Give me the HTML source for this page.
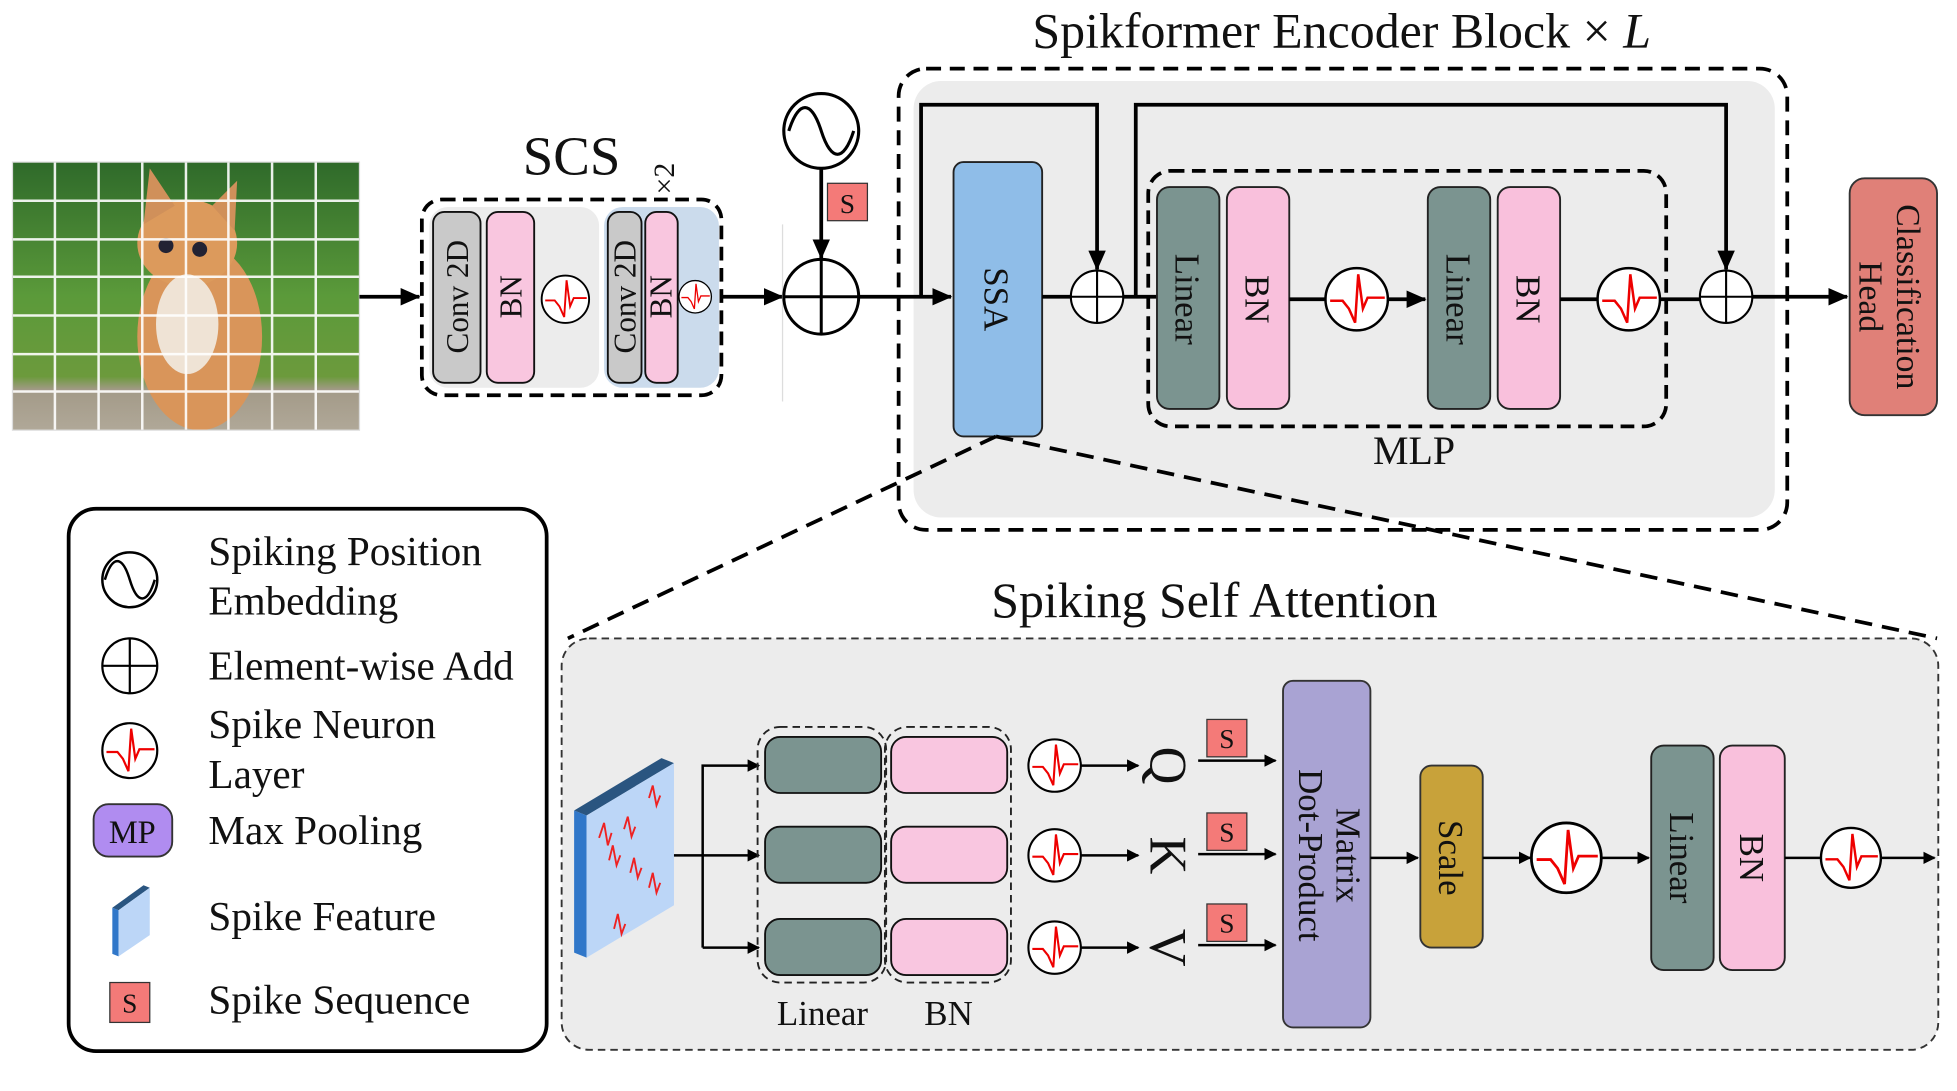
<!DOCTYPE html>
<html><head><meta charset="utf-8"><style>
html,body{margin:0;padding:0;background:#fff;}
svg{display:block;}
text{font-family:"Liberation Serif",serif;fill:#111;}
</style></head><body>
<svg width="1957" height="1091" viewBox="0 0 1568 875" preserveAspectRatio="none" xmlns="http://www.w3.org/2000/svg">
<defs>
<marker id="ar" markerWidth="10" markerHeight="10" refX="9" refY="5" orient="auto" markerUnits="userSpaceOnUse" viewBox="0 0 10 10">
<path d="M0,0 L10,5 L0,10 z" fill="#000"/></marker>
<marker id="ar2" markerWidth="16" markerHeight="14" refX="15" refY="7" orient="auto" markerUnits="userSpaceOnUse" viewBox="0 0 16 14">
<path d="M0,0 L16,7 L0,14 z" fill="#000"/></marker>
<g id="spk"><circle cx="0" cy="0" r="1" fill="#fff" stroke="#000" stroke-width="0.08"/>
<path d="M-0.85,0.05 L-0.45,0.05 L-0.25,0.3 L-0.05,0.75 L0.05,-0.8 L0.2,0.3 L0.35,-0.05 L0.9,-0.05" fill="none" stroke="#e00" stroke-width="0.08"/></g>
<g id="plus"><circle cx="0" cy="0" r="1" fill="#fff" stroke="#000" stroke-width="0.08"/><path d="M-1,0H1M0,-1V1" stroke="#000" stroke-width="0.08"/></g>
<linearGradient id="grass" x1="0" y1="0" x2="0" y2="1"><stop offset="0" stop-color="#2f6a2a"/><stop offset="0.5" stop-color="#5b9a3a"/><stop offset="0.8" stop-color="#6c9a3c"/><stop offset="0.85" stop-color="#a39a88"/><stop offset="1" stop-color="#b0a898"/></linearGradient>
</defs>

<rect x="10" y="130" width="278" height="215" fill="url(#grass)"/>
<ellipse cx="160" cy="270" rx="50" ry="75" fill="#d9955a"/>
<ellipse cx="150" cy="195" rx="40" ry="35" fill="#dc9a5c"/>
<path d="M115,180 L120,135 L140,165 Z M170,165 L190,145 L188,185 Z" fill="#d0905a"/>
<ellipse cx="150" cy="260" rx="25" ry="40" fill="#efe3d5"/>
<circle cx="133" cy="197" r="6" fill="#223"/><circle cx="160" cy="200" r="6" fill="#223"/>
<g stroke="#fff" stroke-width="2" opacity="0.9">
<path d="M44,130V345M79,130V345M114,130V345M149,130V345M183,130V345M218,130V345M253,130V345"/>
<path d="M10,161H288M10,192H288M10,222H288M10,253H288M10,284H288M10,314H288"/>
</g>
<rect x="10" y="130" width="278" height="215" fill="none" stroke="#ddd" stroke-width="1"/>

<line x1="288" y1="238" x2="336" y2="238" stroke="#000" stroke-width="3" marker-end="url(#ar2)"/>

<text x="458" y="140" font-size="44" text-anchor="middle">SCS</text>
<text x="0" y="0" font-size="24" transform="translate(540,156) rotate(-90)">×2</text>
<rect x="344" y="166" width="136" height="145" rx="15" fill="#ececec"/>
<rect x="484" y="166" width="92" height="145" rx="15" fill="#cbdbec"/>
<rect x="338" y="160" width="240" height="157" rx="16" fill="none" stroke="#000" stroke-width="3" stroke-dasharray="11,6"/>
<rect x="347" y="170" width="38" height="137" rx="9" fill="#c9c9c9" stroke="#111" stroke-width="1.5"/>
<rect x="390" y="170" width="38" height="137" rx="9" fill="#f9c6df" stroke="#111" stroke-width="1.5"/>
<text font-size="25" text-anchor="middle" transform="translate(375,238) rotate(-90)">Conv 2D</text>
<text font-size="25" text-anchor="middle" transform="translate(418,238) rotate(-90)">BN</text>
<use href="#spk" transform="translate(453,240) scale(19)"/>
<rect x="487" y="170" width="27" height="137" rx="9" fill="#c9c9c9" stroke="#111" stroke-width="1.5"/>
<rect x="517" y="170" width="26" height="137" rx="9" fill="#f9c6df" stroke="#111" stroke-width="1.5"/>
<text font-size="25" text-anchor="middle" transform="translate(509,238) rotate(-90)">Conv 2D</text>
<text font-size="25" text-anchor="middle" transform="translate(538,238) rotate(-90)">BN</text>
<use href="#spk" transform="translate(557,238) scale(13)"/>
<line x1="578" y1="238" x2="627" y2="238" stroke="#000" stroke-width="3" marker-end="url(#ar2)"/>
<line x1="627" y1="180" x2="627" y2="322" stroke="#ddd" stroke-width="1"/>

<circle cx="658" cy="105" r="30" fill="#fff" stroke="#000" stroke-width="2.5"/>
<path d="M632,105 C640,80 650,80 658,105 C666,130 676,130 684,105" fill="none" stroke="#000" stroke-width="2.5"/>
<rect x="663" y="147" width="32" height="30" fill="#f47a78" stroke="#333" stroke-width="1"/>
<text x="679" y="171" font-size="22" text-anchor="middle">S</text>
<line x1="658" y1="135" x2="658" y2="207" stroke="#000" stroke-width="3" marker-end="url(#ar2)"/>
<use href="#plus" transform="translate(658,238) scale(30)"/>

<text x="1075" y="38" font-size="40" text-anchor="middle">Spikformer Encoder Block × <tspan font-style="italic">L</tspan></text>
<rect x="732" y="65" width="690" height="350" rx="22" fill="#ececec"/>
<rect x="720" y="55" width="712" height="370" rx="22" fill="none" stroke="#000" stroke-width="3" stroke-dasharray="12,7"/>
<line x1="688" y1="238" x2="762" y2="238" stroke="#000" stroke-width="3" marker-end="url(#ar2)"/>
<path d="M738,238 V84 H879 V216" fill="none" stroke="#000" stroke-width="3" marker-end="url(#ar2)"/>
<rect x="764" y="130" width="71" height="220" rx="8" fill="#8fbde8" stroke="#222" stroke-width="1.5"/>
<text font-size="28" text-anchor="middle" transform="translate(789,240) rotate(90)">SSA</text>
<line x1="835" y1="238" x2="858" y2="238" stroke="#000" stroke-width="3"/>
<use href="#plus" transform="translate(879,238) scale(21)"/>
<line x1="900" y1="238" x2="927" y2="238" stroke="#000" stroke-width="3"/>
<path d="M910,238 V84 H1383 V216" fill="none" stroke="#000" stroke-width="3" marker-end="url(#ar2)"/>
<rect x="920" y="137" width="415" height="205" rx="18" fill="none" stroke="#000" stroke-width="3" stroke-dasharray="11,6"/>
<text x="1133" y="372" font-size="32" text-anchor="middle">MLP</text>
<rect x="927" y="150" width="50" height="178" rx="10" fill="#7b9490" stroke="#222" stroke-width="1.5"/>
<rect x="983" y="150" width="50" height="178" rx="10" fill="#f9c0dc" stroke="#222" stroke-width="1.5"/>
<text font-size="28" text-anchor="middle" transform="translate(942,240) rotate(90)">Linear</text>
<text font-size="28" text-anchor="middle" transform="translate(998,240) rotate(90)">BN</text>
<line x1="1033" y1="240" x2="1062" y2="240" stroke="#000" stroke-width="3"/>
<use href="#spk" transform="translate(1087,240) scale(25)"/>
<line x1="1112" y1="240" x2="1142" y2="240" stroke="#000" stroke-width="3" marker-end="url(#ar2)"/>
<rect x="1144" y="150" width="50" height="178" rx="10" fill="#7b9490" stroke="#222" stroke-width="1.5"/>
<rect x="1200" y="150" width="50" height="178" rx="10" fill="#f9c0dc" stroke="#222" stroke-width="1.5"/>
<text font-size="28" text-anchor="middle" transform="translate(1159,240) rotate(90)">Linear</text>
<text font-size="28" text-anchor="middle" transform="translate(1215,240) rotate(90)">BN</text>
<line x1="1250" y1="240" x2="1280" y2="240" stroke="#000" stroke-width="3"/>
<use href="#spk" transform="translate(1305,240) scale(25)"/>
<line x1="1330" y1="240" x2="1362" y2="240" stroke="#000" stroke-width="3"/>
<use href="#plus" transform="translate(1383,238) scale(21)"/>
<line x1="1404" y1="238" x2="1480" y2="238" stroke="#000" stroke-width="3" marker-end="url(#ar2)"/>
<rect x="1482" y="143" width="70" height="190" rx="12" fill="#e08078" stroke="#333" stroke-width="1.5"/>
<text font-size="27" text-anchor="middle" transform="translate(1510,238) rotate(90)"><tspan x="0" dy="-10">Classification</tspan><tspan x="0" dy="30">Head</tspan></text>

<path d="M798,350 L455,512 M798,350 L1552,512" stroke="#000" stroke-width="3" stroke-dasharray="14,8" fill="none"/>

<text x="973" y="495" font-size="40" text-anchor="middle">Spiking Self Attention</text>
<rect x="450" y="512" width="1103" height="330" rx="22" fill="#ececec" stroke="#333" stroke-width="1.5" stroke-dasharray="6,4"/>
<polygon points="460,650 530,608 540,612 470,654" fill="#2a5580"/>
<polygon points="460,650 470,654 470,768 460,764" fill="#3077c9"/>
<polygon points="470,654 540,612 540,726 470,768" fill="#bcd6f7"/>
<g stroke="#e22" stroke-width="1.5" fill="none">
<path d="M480,672 l4,-12 l3,18 l3,-10 M500,665 l3,-10 l3,16 l3,-8 M520,640 l3,-10 l3,16 l3,-8 M505,700 l3,-12 l3,16 l3,-8 M488,690 l3,-12 l3,16 l3,-8 M520,712 l3,-12 l3,16 l3,-8 M492,745 l3,-12 l3,16 l3,-8"/>
</g>
<line x1="540" y1="686" x2="608" y2="686" stroke="#000" stroke-width="2" marker-end="url(#ar)"/>
<path d="M563,760 V614 H608" fill="none" stroke="#000" stroke-width="2" marker-end="url(#ar)"/>
<line x1="563" y1="760" x2="608" y2="760" stroke="#000" stroke-width="2" marker-end="url(#ar)"/>
<rect x="607" y="583" width="103" height="205" rx="18" fill="none" stroke="#222" stroke-width="1.5" stroke-dasharray="6,4"/>
<rect x="709" y="583" width="101" height="205" rx="18" fill="none" stroke="#222" stroke-width="1.5" stroke-dasharray="6,4"/>
<g stroke="#111" stroke-width="1.5">
<rect x="613" y="591" width="93" height="45" rx="12" fill="#7b9490"/>
<rect x="613" y="663" width="93" height="45" rx="12" fill="#7b9490"/>
<rect x="613" y="737" width="93" height="45" rx="12" fill="#7b9490"/>
<rect x="714" y="591" width="93" height="45" rx="12" fill="#f9c6e0"/>
<rect x="714" y="663" width="93" height="45" rx="12" fill="#f9c6e0"/>
<rect x="714" y="737" width="93" height="45" rx="12" fill="#f9c6e0"/>
</g>
<text x="659" y="822" font-size="28" text-anchor="middle">Linear</text>
<text x="760" y="822" font-size="28" text-anchor="middle">BN</text>
<use href="#spk" transform="translate(845,614) scale(21)"/>
<use href="#spk" transform="translate(845,686) scale(21)"/>
<use href="#spk" transform="translate(845,760) scale(21)"/>
<line x1="866" y1="614" x2="912" y2="614" stroke="#000" stroke-width="2" marker-end="url(#ar)"/>
<line x1="866" y1="686" x2="912" y2="686" stroke="#000" stroke-width="2" marker-end="url(#ar)"/>
<line x1="866" y1="760" x2="912" y2="760" stroke="#000" stroke-width="2" marker-end="url(#ar)"/>
<text font-size="42" text-anchor="middle" transform="translate(922,614) rotate(90)">Q</text>
<text font-size="42" text-anchor="middle" transform="translate(922,686) rotate(90)">K</text>
<text font-size="42" text-anchor="middle" transform="translate(922,760) rotate(90)">V</text>
<g>
<rect x="967" y="577" width="32" height="30" fill="#f47a78" stroke="#333"/><text x="983" y="600" font-size="22" text-anchor="middle">S</text>
<rect x="967" y="652" width="32" height="30" fill="#f47a78" stroke="#333"/><text x="983" y="675" font-size="22" text-anchor="middle">S</text>
<rect x="967" y="725" width="32" height="30" fill="#f47a78" stroke="#333"/><text x="983" y="748" font-size="22" text-anchor="middle">S</text>
</g>
<line x1="960" y1="610" x2="1022" y2="610" stroke="#000" stroke-width="2" marker-end="url(#ar)"/>
<line x1="960" y1="685" x2="1022" y2="685" stroke="#000" stroke-width="2" marker-end="url(#ar)"/>
<line x1="960" y1="758" x2="1022" y2="758" stroke="#000" stroke-width="2" marker-end="url(#ar)"/>
<rect x="1028" y="546" width="70" height="278" rx="8" fill="#a9a3d3" stroke="#333" stroke-width="1.5"/>
<text font-size="28" text-anchor="middle" transform="translate(1063,686) rotate(90)"><tspan x="0" dy="-8">Matrix</tspan><tspan x="0" dy="30">Dot-Product</tspan></text>
<line x1="1098" y1="688" x2="1136" y2="688" stroke="#000" stroke-width="2" marker-end="url(#ar)"/>
<rect x="1138" y="614" width="50" height="146" rx="9" fill="#c8a23a" stroke="#333" stroke-width="1.5"/>
<text font-size="28" text-anchor="middle" transform="translate(1153,688) rotate(90)">Scale</text>
<line x1="1188" y1="688" x2="1226" y2="688" stroke="#000" stroke-width="2" marker-end="url(#ar)"/>
<use href="#spk" transform="translate(1255,688) scale(28)"/>
<line x1="1283" y1="688" x2="1321" y2="688" stroke="#000" stroke-width="2" marker-end="url(#ar)"/>
<rect x="1323" y="598" width="50" height="180" rx="10" fill="#7b9490" stroke="#222" stroke-width="1.5"/>
<rect x="1378" y="598" width="52" height="180" rx="10" fill="#f9c0dc" stroke="#222" stroke-width="1.5"/>
<text font-size="28" text-anchor="middle" transform="translate(1338,688) rotate(90)">Linear</text>
<text font-size="28" text-anchor="middle" transform="translate(1394,688) rotate(90)">BN</text>
<line x1="1430" y1="688" x2="1459" y2="688" stroke="#000" stroke-width="2"/>
<use href="#spk" transform="translate(1483,688) scale(24)"/>
<line x1="1507" y1="688" x2="1550" y2="688" stroke="#000" stroke-width="2" marker-end="url(#ar)"/>

<rect x="55" y="408" width="383" height="435" rx="22" fill="#fff" stroke="#000" stroke-width="3"/>
<circle cx="104" cy="465" r="22" fill="#fff" stroke="#000" stroke-width="2"/>
<path d="M84,465 C90,445 98,445 104,465 C110,485 118,485 124,465" fill="none" stroke="#000" stroke-width="2"/>
<text x="167" y="453" font-size="33">Spiking Position</text>
<text x="167" y="493" font-size="33">Embedding</text>
<use href="#plus" transform="translate(104,534) scale(22)"/>
<text x="167" y="545" font-size="33">Element-wise Add</text>
<use href="#spk" transform="translate(104,602) scale(22)"/>
<text x="167" y="592" font-size="33">Spike Neuron</text>
<text x="167" y="632" font-size="33">Layer</text>
<rect x="75" y="645" width="63" height="42" rx="12" fill="#b08cf0" stroke="#333" stroke-width="1.5"/>
<text x="106" y="676" font-size="26" text-anchor="middle">MP</text>
<text x="167" y="677" font-size="33">Max Pooling</text>
<polygon points="90,728 115,710 120,712 95,730" fill="#2a5580"/>
<polygon points="90,728 95,730 95,767 90,765" fill="#3077c9"/>
<polygon points="95,730 120,712 120,750 95,767" fill="#bcd6f7"/>
<text x="167" y="746" font-size="33">Spike Feature</text>
<rect x="88" y="788" width="32" height="32" fill="#f47a78" stroke="#333"/>
<text x="104" y="812" font-size="22" text-anchor="middle">S</text>
<text x="167" y="813" font-size="33">Spike Sequence</text>
</svg>
</body></html>
